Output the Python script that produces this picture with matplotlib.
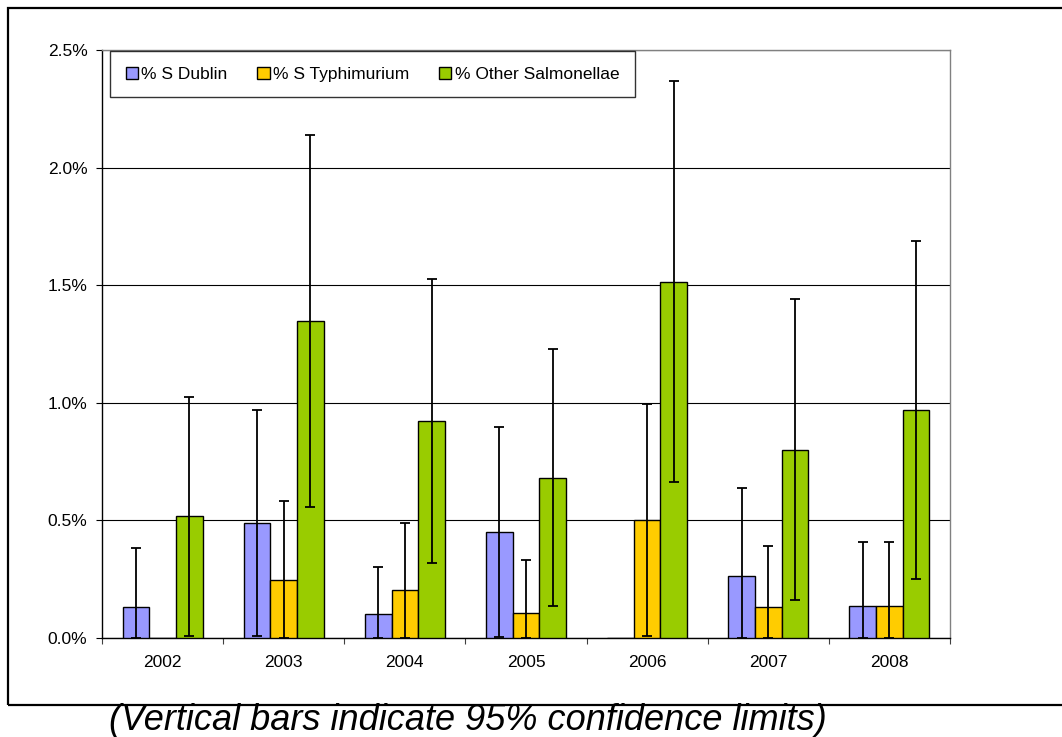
import numpy as np
import matplotlib
matplotlib.use('Agg')
import matplotlib.pyplot as plt
from matplotlib.patches import Rectangle
from matplotlib.ticker import FuncFormatter, FixedLocator

plt.rcParams['font.family'] = ['Liberation Sans', 'DejaVu Sans']

# data (percent)
years = ['2002', '2003', '2004', '2005', '2006', '2007', '2008']
series_names = ['% S Dublin', '% S Typhimurium', '% Other Salmonellae']
colors = ['#9999FF', '#FFCC00', '#99CC00']

dublin = [0.130, 0.489, 0.102, 0.452, 0.0, 0.265, 0.136]
dublin_lo = [0.0, 0.010, 0.0, 0.005, 0.0, 0.0, 0.0]
dublin_hi = [0.384, 0.969, 0.303, 0.899, 0.0, 0.636, 0.409]

typh = [0.0, 0.245, 0.205, 0.108, 0.502, 0.130, 0.136]
typh_lo = [0.0, 0.0, 0.0, 0.0, 0.007, 0.0, 0.0]
typh_hi = [0.0, 0.584, 0.488, 0.333, 0.996, 0.392, 0.409]

other = [0.519, 1.348, 0.923, 0.681, 1.514, 0.799, 0.971]
other_lo = [0.010, 0.557, 0.320, 0.134, 0.662, 0.161, 0.252]
other_hi = [1.026, 2.139, 1.527, 1.227, 2.368, 1.441, 1.689]

values = [dublin, typh, other]
lows = [dublin_lo, typh_lo, other_lo]
highs = [dublin_hi, typh_hi, other_hi]

fig = plt.figure(figsize=(10.62, 7.37), dpi=100)
ax = fig.add_axes([102/1062, 1 - 638/737, 848/1062, 588/737])

x = np.arange(len(years))
w = 0.22
for i in range(3):
    v = np.array(values[i])
    lo = np.array(lows[i])
    hi = np.array(highs[i])
    pos = x + (i - 1) * w
    ax.bar(pos, v, width=w, color=colors[i], edgecolor='black', linewidth=1.0,
           label=series_names[i], zorder=3)
    # no error bar for the empty (zero) bars
    m = hi > v
    ax.errorbar(pos[m], v[m], yerr=[v[m] - lo[m], hi[m] - v[m]], fmt='none',
                ecolor='black', elinewidth=1.3, capsize=3.5, capthick=1.3, zorder=4)

ax.set_xlim(-0.5, 6.5)
ax.set_ylim(0, 2.5)
ax.set_yticks(np.arange(0, 2.51, 0.5))
ax.yaxis.set_major_formatter(FuncFormatter(lambda v, p: f'{v:.1f}%'))
ax.yaxis.grid(True, color='black', linewidth=0.8, zorder=0)
ax.set_axisbelow(True)

# ticks between categories, labels in the middle
ax.xaxis.set_major_locator(FixedLocator(np.arange(-0.5, 7, 1)))
ax.xaxis.set_minor_locator(FixedLocator(x))
ax.set_xticklabels([], minor=False)
ax.set_xticklabels(years, minor=True)
ax.tick_params(axis='x', which='major', direction='out', length=4.5, width=0.8, color='#404040')
ax.tick_params(axis='x', which='minor', length=0, labelsize=12.5, pad=12)
ax.tick_params(axis='y', direction='out', length=4.5, width=0.8, labelsize=12.5, pad=6)

ax.spines['left'].set_color('black')
ax.spines['bottom'].set_color('black')
ax.spines['top'].set_color('#808080')
ax.spines['right'].set_color('#808080')
for s in ax.spines.values():
    s.set_linewidth(1.0)

leg = ax.legend(loc='upper left', bbox_to_anchor=(8/848, (587 - 50)/588, 525/848, 50/588),
                mode='expand', ncol=3, fontsize=12.5, frameon=True, fancybox=False,
                edgecolor='black', handlelength=0.7, handleheight=0.7,
                handletextpad=0.2, borderaxespad=0, borderpad=0.9)
leg.get_frame().set_linewidth(1.0)

# outer border
fig.patches.append(Rectangle((8/1062, 1 - 705/737), 1.1, 697/737, transform=fig.transFigure,
                             fill=False, edgecolor='black', linewidth=1.6))

fig.text(468/1062, 1 - 720/737, '(Vertical bars indicate 95% confidence limits)',
         ha='center', va='center', fontsize=26, style='italic')

fig.savefig('out.png', dpi=100)
